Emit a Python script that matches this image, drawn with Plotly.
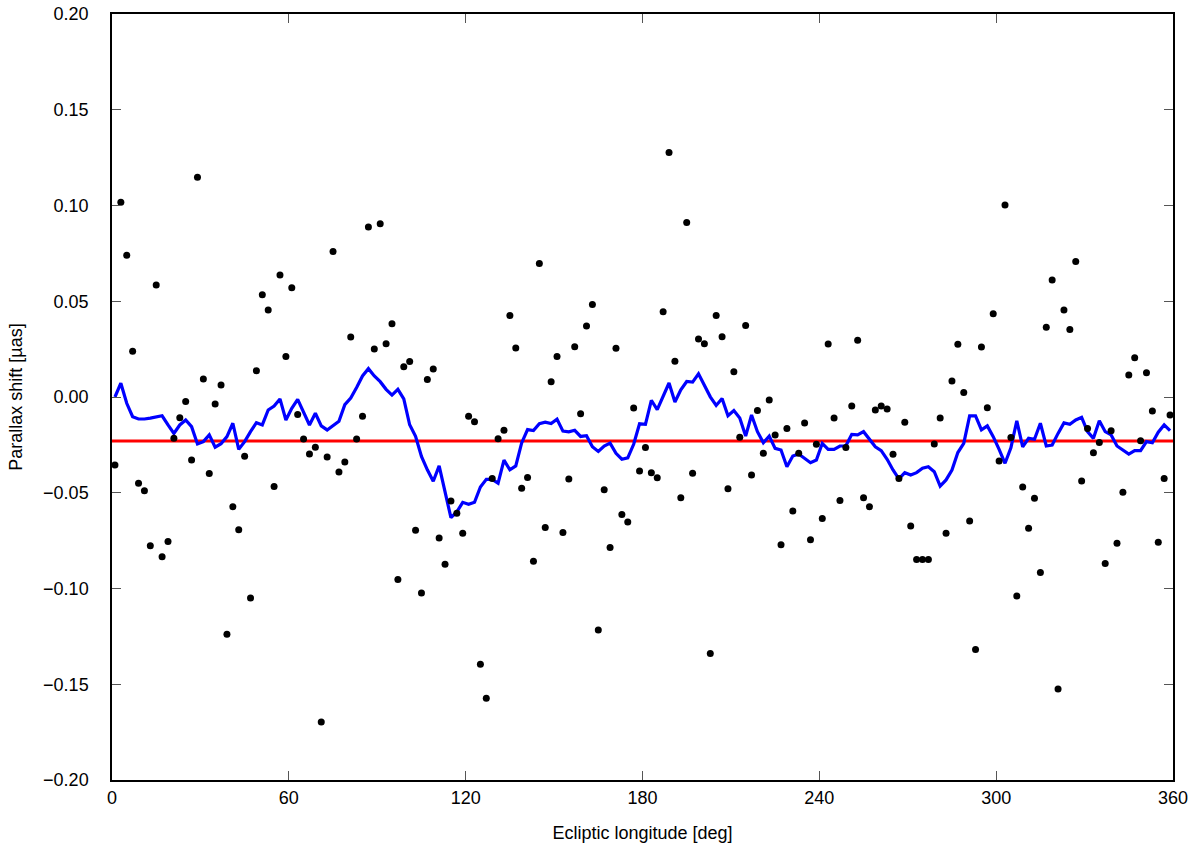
import plotly.graph_objects as go

# Ecliptic longitude of each sample [deg]
longitude = list(range(1, 360, 2))

# Parallax shift of each sample [µas]
shift = [
    -0.0355, 0.1017, 0.0740, 0.0239, -0.0450, -0.0490, -0.0777, 0.0585, -0.0834, -0.0754,
    -0.0216, -0.0108, -0.0023, -0.0329, 0.1147, 0.0094, -0.0400, -0.0037, 0.0063, -0.1239,
    -0.0573, -0.0693, -0.0310, -0.1050, 0.0137, 0.0534, 0.0454, -0.0467, 0.0637, 0.0211,
    0.0571, -0.0092, -0.0219, -0.0298, -0.0263, -0.1697, -0.0313, 0.0760, -0.0392, -0.0340,
    0.0313, -0.0219, -0.0101, 0.0888, 0.0251, 0.0905, 0.0278, 0.0383, -0.0953, 0.0158,
    0.0186, -0.0696, -0.1024, 0.0091, 0.0146, -0.0736, -0.0874, -0.0543, -0.0607, -0.0712,
    -0.0101, -0.0129, -0.1396, -0.1573, -0.0425, -0.0218, -0.0174, 0.0425, 0.0256, -0.0477,
    -0.0421, -0.0858, 0.0697, -0.0681, 0.0079, 0.0212, -0.0708, -0.0428, 0.0262, -0.0087,
    0.0371, 0.0483, -0.1217, -0.0484, -0.0786, 0.0255, -0.0614, -0.0653, -0.0058, -0.0386,
    -0.0264, -0.0395, -0.0422, 0.0445, 0.1277, 0.0187, -0.0526, 0.0911, -0.0398, 0.0303,
    0.0278, -0.1340, 0.0425, 0.0315, -0.0479, 0.0132, -0.0210, 0.0373, -0.0407, -0.0071,
    -0.0294, -0.0016, -0.0198, -0.0771, -0.0165, -0.0595, -0.0294, -0.0136, -0.0745, -0.0247,
    -0.0634, 0.0277, -0.0110, -0.0540, -0.0264, -0.0047, 0.0296, -0.0526, -0.0573, -0.0068,
    -0.0047, -0.0063, -0.0299, -0.0425, -0.0132, -0.0674, -0.0848, -0.0848, -0.0848, -0.0245,
    -0.0110, -0.0712, 0.0084, 0.0275, 0.0023, -0.0648, -0.1318, 0.0261, -0.0056, 0.0435,
    -0.0334, 0.1003, -0.0212, -0.1039, -0.0470, -0.0686, -0.0529, -0.0916, 0.0364, 0.0611,
    -0.1525, 0.0454, 0.0353, 0.0707, -0.0439, -0.0164, -0.0291, -0.0237, -0.0869, -0.0176,
    -0.0764, -0.0498, 0.0115, 0.0205, -0.0228, 0.0127, -0.0073, -0.0759, -0.0425, -0.0094,
]

# Running mean of the shift [µas]
running_mean = [
    0.0000, 0.0072, -0.0033, -0.0103, -0.0115, -0.0115, -0.0110, -0.0103, -0.0098, -0.0146,
    -0.0190, -0.0146, -0.0120, -0.0155, -0.0245, -0.0233, -0.0198, -0.0262, -0.0244, -0.0207,
    -0.0137, -0.0273, -0.0233, -0.0181, -0.0134, -0.0146, -0.0068, -0.0047, -0.0010, -0.0120,
    -0.0059, -0.0012, -0.0077, -0.0146, -0.0085, -0.0151, -0.0172, -0.0150, -0.0127, -0.0040,
    -0.0005, 0.0050, 0.0110, 0.0148, 0.0110, 0.0080, 0.0040, 0.0010, 0.0040, -0.0010,
    -0.0145, -0.0205, -0.0310, -0.0380, -0.0440, -0.0360, -0.0490, -0.0630, -0.0600, -0.0550,
    -0.0560, -0.0550, -0.0470, -0.0430, -0.0430, -0.0450, -0.0330, -0.0380, -0.0360, -0.0240,
    -0.0170, -0.0175, -0.0139, -0.0131, -0.0139, -0.0116, -0.0178, -0.0182, -0.0174, -0.0206,
    -0.0202, -0.0260, -0.0284, -0.0256, -0.0241, -0.0294, -0.0325, -0.0318, -0.0247, -0.0140,
    -0.0143, -0.0017, -0.0066, 0.0006, 0.0073, -0.0026, 0.0037, 0.0081, 0.0078, 0.0121,
    0.0064, 0.0001, -0.0044, -0.0008, -0.0098, -0.0071, -0.0110, -0.0204, -0.0094, -0.0181,
    -0.0239, -0.0204, -0.0268, -0.0277, -0.0364, -0.0308, -0.0298, -0.0320, -0.0343, -0.0329,
    -0.0242, -0.0273, -0.0273, -0.0256, -0.0255, -0.0195, -0.0198, -0.0181, -0.0221, -0.0260,
    -0.0280, -0.0325, -0.0381, -0.0428, -0.0395, -0.0407, -0.0395, -0.0372, -0.0364, -0.0390,
    -0.0465, -0.0433, -0.0381, -0.0290, -0.0242, -0.0099, -0.0099, -0.0172, -0.0151, -0.0207,
    -0.0273, -0.0346, -0.0265, -0.0124, -0.0260, -0.0216, -0.0221, -0.0137, -0.0256, -0.0251,
    -0.0190, -0.0135, -0.0143, -0.0120, -0.0106, -0.0181, -0.0216, -0.0124, -0.0181, -0.0198,
    -0.0256, -0.0277, -0.0298, -0.0280, -0.0280, -0.0233, -0.0239, -0.0184, -0.0146, -0.0176,
]

# Overall mean shift (red line) [µas]
mean_shift = -0.023

x_ticks = [0, 60, 120, 180, 240, 300, 360]
y_ticks = [-0.20, -0.15, -0.10, -0.05, 0.00, 0.05, 0.10, 0.15, 0.20]

FONT = "Liberation Sans, Arial, sans-serif"

fig = go.Figure()

fig.add_hline(y=mean_shift, line=dict(color="#ff0000", width=3), layer="below")

fig.add_trace(go.Scatter(
    x=longitude, y=running_mean, mode="lines",
    line=dict(color="#0000ff", width=3.2), hoverinfo="skip", showlegend=False,
))

fig.add_trace(go.Scatter(
    x=longitude, y=shift, mode="markers",
    marker=dict(color="black", size=7), showlegend=False,
))

axis_common = dict(
    showgrid=False, zeroline=False, showline=True, linecolor="black", linewidth=1.5,
    mirror="ticks", ticks="inside", ticklen=9, tickwidth=1, tickcolor="#555555",
    tickfont=dict(family=FONT, size=18, color="black"), automargin=False,
    ticklabeloverflow="allow",
)

fig.update_xaxes(
    range=[0, 360], tickvals=x_ticks, ticktext=[str(v) for v in x_ticks],
    title=dict(text="Ecliptic longitude [deg]", font=dict(family=FONT, size=18, color="black"), standoff=19),
    ticklabelstandoff=1,
    **axis_common,
)
fig.update_yaxes(
    range=[-0.20, 0.20], tickvals=y_ticks, tickformat=".2f",
    title=dict(text="Parallax shift [µas]", font=dict(family=FONT, size=18, color="black"), standoff=16),
    ticklabelstandoff=18,
    **axis_common,
)

fig.update_layout(
    width=1200, height=858,
    margin=dict(l=112, r=27, t=14, b=78),
    paper_bgcolor="white", plot_bgcolor="white",
    font=dict(family=FONT, size=18, color="black"),
    showlegend=False,
)

fig.write_html(
    "out.html",
    config={"displayModeBar": False},
    post_script="document.body.style.margin='0';",
)
